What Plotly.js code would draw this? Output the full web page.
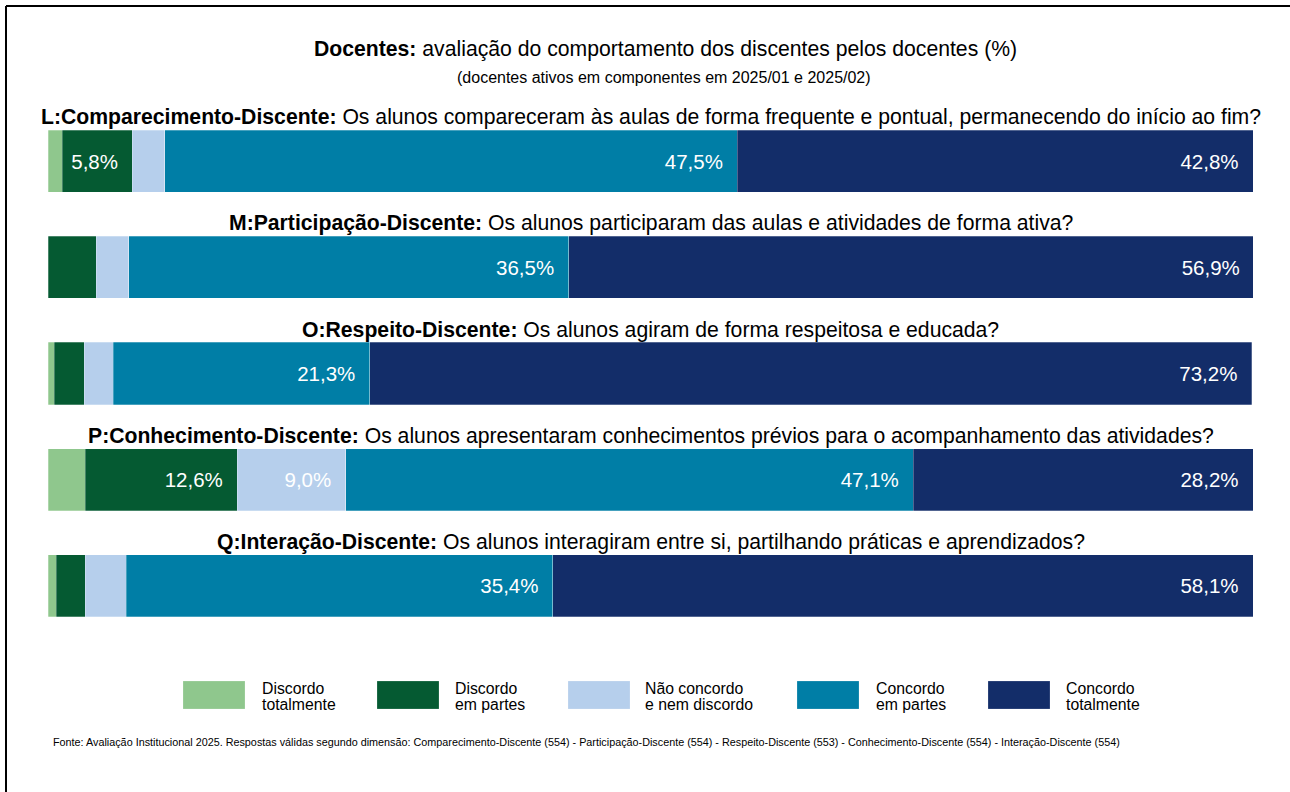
<!DOCTYPE html>
<html>
<head>
<meta charset="utf-8">
<script src="https://cdn.plot.ly/plotly-3.0.1.min.js"></script>
<style>
  html, body { margin: 0; padding: 0; background: #fff; }
  #chart { width: 1290px; height: 792px; }
</style>
</head>
<body>
<div id="chart"></div>
<script>
// ---- Data ----
const categories = ["L", "M", "O", "P", "Q"];
const questionLabels = [
  "<b>L:Comparecimento-Discente:</b> Os alunos compareceram às aulas de forma frequente e pontual, permanecendo do início ao fim?",
  "<b>M:Participação-Discente:</b> Os alunos participaram das aulas e atividades de forma ativa?",
  "<b>O:Respeito-Discente:</b> Os alunos agiram de forma respeitosa e educada?",
  "<b>P:Conhecimento-Discente:</b> Os alunos apresentaram conhecimentos prévios para o acompanhamento das atividades?",
  "<b>Q:Interação-Discente:</b> Os alunos interagiram entre si, partilhando práticas e aprendizados?"
];
const seriesNames = ["Discordo totalmente", "Discordo em partes", "Não concordo e nem discordo", "Concordo em partes", "Concordo totalmente"];
const legendLine1 = ["Discordo", "Discordo", "Não concordo", "Concordo", "Concordo"];
const legendLine2 = ["totalmente", "em partes", "e nem discordo", "em partes", "totalmente"];
const discordoTotalmente = [1.2, 0.0, 0.5, 3.1, 0.7];
const discordoEmPartes   = [5.8, 4.0, 2.5, 12.6, 2.4];
const neutro             = [2.7, 2.7, 2.4, 9.0, 3.4];
const concordoEmPartes   = [47.5, 36.5, 21.3, 47.1, 35.4];
const concordoTotalmente = [42.8, 56.9, 73.2, 28.2, 58.1];
const colors = ["#8fc78d", "#055a32", "#b6cfec", "#007ea6", "#132d69"];
const titleText = "<b>Docentes:</b> avaliação do comportamento dos discentes pelos docentes (%)";
const subtitleText = "(docentes ativos em componentes em 2025/01 e 2025/02)";
const footerText = "Fonte: Avaliação Institucional 2025. Respostas válidas segundo dimensão: Comparecimento-Discente (554) - Participação-Discente (554) - Respeito-Discente (553) - Conhecimento-Discente (554) - Interação-Discente (554)";

const series = [discordoTotalmente, discordoEmPartes, neutro, concordoEmPartes, concordoTotalmente];
const fmt = v => v.toFixed(1).replace(".", ",") + "%";

// ---- Geometry helpers (pixel -> paper) ----
const W = 1290, H = 792;
const mL = 48, mR = 37, mT = 108, mB = 153;
const plotW = W - mL - mR, plotH = H - mT - mB;
const px = x => (x - mL) / plotW;
const py = y => (H - mB - y) / plotH;

const font = "Liberation Sans, Arial, sans-serif";

const traces = series.map((vals, i) => ({
  type: "bar",
  orientation: "h",
  name: seriesNames[i],
  y: categories,
  x: vals,
  width: 0.585,
  marker: { color: colors[i], line: { color: "rgba(255,255,255,0.45)", width: 0.6 } },
  text: vals.map(v => v >= 5 ? fmt(v) + "\u00a0\u00a0" : ""),
  textposition: "inside",
  insidetextanchor: "end",
  constraintext: "none",
  textfont: { family: font, size: 20.5, color: "#ffffff" },
  hoverinfo: "name+x",
  showlegend: false
}));

const annotations = [];
questionLabels.forEach((q, i) => {
  annotations.push({
    xref: "paper", yref: "y", x: 0.5, y: categories[i],
    yshift: 44, text: q, showarrow: false,
    xanchor: "center", yanchor: "middle",
    font: { family: font, size: 21.2, color: "#000" }
  });
});
annotations.push({
  xref: "paper", yref: "paper", x: px(665), y: py(49), text: titleText,
  showarrow: false, xanchor: "center", yanchor: "middle",
  font: { family: font, size: 21.2, color: "#000" }
});
annotations.push({
  xref: "paper", yref: "paper", x: px(664), y: py(77), text: subtitleText,
  showarrow: false, xanchor: "center", yanchor: "middle",
  font: { family: font, size: 16, color: "#000" }
});
annotations.push({
  xref: "paper", yref: "paper", x: px(51), y: py(742), text: footerText,
  showarrow: false, xanchor: "left", yanchor: "middle",
  font: { family: font, size: 10.8, color: "#000" }
});

const shapes = [];
const legendBoxX = [183, 377, 568, 797, 988];
const legendTextX = [260, 453, 643, 874, 1064];
legendLine1.forEach((lab, i) => {
  shapes.push({
    type: "rect", xref: "paper", yref: "paper",
    x0: px(legendBoxX[i]), x1: px(legendBoxX[i] + 62),
    y0: py(709), y1: py(681),
    fillcolor: colors[i], line: { color: "rgba(255,255,255,0.4)", width: 0.5 }
  });
  annotations.push({
    xref: "paper", yref: "paper", x: px(legendTextX[i]), y: py(688),
    text: lab, showarrow: false, xanchor: "left", yanchor: "middle", align: "left",
    font: { family: font, size: 15.8, color: "#000" }
  });
  annotations.push({
    xref: "paper", yref: "paper", x: px(legendTextX[i]), y: py(704),
    text: legendLine2[i], showarrow: false, xanchor: "left", yanchor: "middle", align: "left",
    font: { family: font, size: 15.8, color: "#000" }
  });
});
// frame lines (top and left)
shapes.push({ type: "line", xref: "paper", yref: "paper", x0: px(6), x1: px(1290), y0: py(6), y1: py(6), line: { color: "#000", width: 2 } });
shapes.push({ type: "line", xref: "paper", yref: "paper", x0: px(6), x1: px(6), y0: py(6), y1: py(792), line: { color: "#000", width: 2 } });

const layout = {
  width: W, height: H,
  margin: { l: mL, r: mR, t: mT, b: mB },
  barmode: "stack",
  paper_bgcolor: "#ffffff",
  plot_bgcolor: "#ffffff",
  showlegend: false,
  xaxis: { range: [0, 100], visible: false, fixedrange: true },
  yaxis: { type: "category", categoryarray: categories, range: [4.5, -0.5], visible: false, fixedrange: true },
  annotations: annotations,
  shapes: shapes,
  font: { family: font }
};

Plotly.newPlot("chart", traces, layout, { displayModeBar: false, staticPlot: true });
</script>
</body>
</html>
